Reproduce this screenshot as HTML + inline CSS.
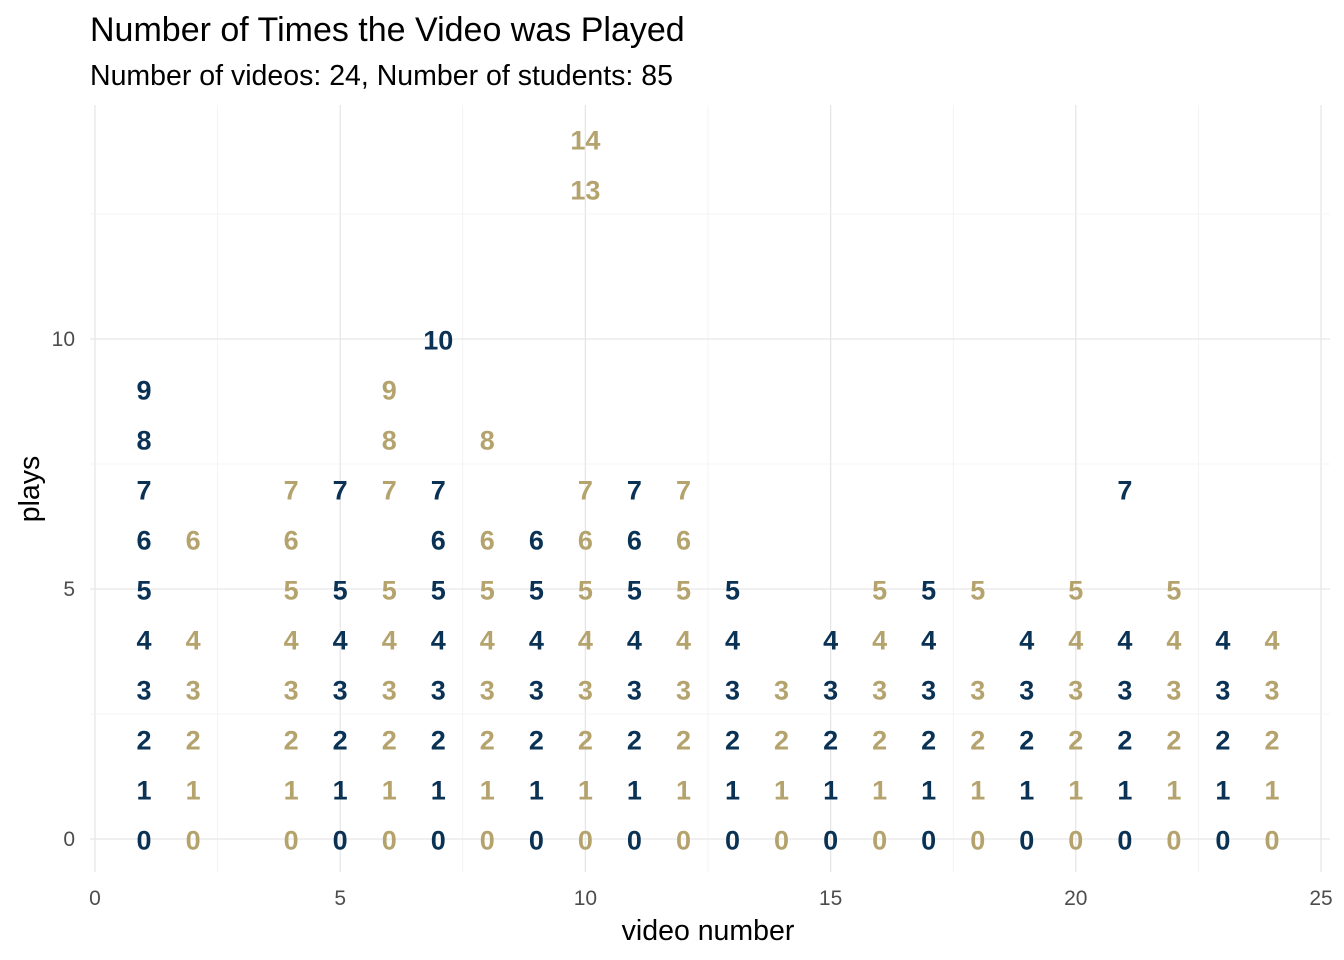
<!DOCTYPE html>
<html><head><meta charset="utf-8"><style>
body{margin:0;background:#fff;}
svg{display:block;font-family:"Liberation Sans",Arial,sans-serif;}
</style></head><body>
<svg id="chart" width="1344" height="960" xmlns="http://www.w3.org/2000/svg">
<text x="90" y="41" font-size="34" fill="#000">Number of Times the Video was Played</text>
<text x="90" y="85" font-size="28.5" fill="#000">Number of videos: 24, Number of students: 85</text>
<g id="grid"></g><g id="labels"></g><g id="axes"></g>
<text x="708" y="940" font-size="28.5" text-anchor="middle" fill="#000">video number</text>
<text transform="translate(39,489) rotate(-90)" font-size="28.5" text-anchor="middle" fill="#000">plays</text>
</svg>
<script>
const videos=[1,2,4,5,6,7,8,9,10,11,12,13,14,15,16,17,18,19,20,21,22,23,24];
const playValues=[
[0,1,2,3,4,5,6,7,8,9],[0,1,2,3,4,6],[0,1,2,3,4,5,6,7],[0,1,2,3,4,5,7],[0,1,2,3,4,5,7,8,9],
[0,1,2,3,4,5,6,7,10],[0,1,2,3,4,5,6,8],[0,1,2,3,4,5,6],[0,1,2,3,4,5,6,7,13,14],[0,1,2,3,4,5,6,7],
[0,1,2,3,4,5,6,7],[0,1,2,3,4,5],[0,1,2,3],[0,1,2,3,4],[0,1,2,3,4,5],[0,1,2,3,4,5],[0,1,2,3,5],
[0,1,2,3,4],[0,1,2,3,4,5],[0,1,2,3,4,7],[0,1,2,3,4,5],[0,1,2,3,4],[0,1,2,3,4]];
const xTicks=[0,5,10,15,20,25];
const yTicks=[0,5,10];
const NS="http://www.w3.org/2000/svg";
const X=v=>95+v*49.04, Y=v=>839-v*50;
const L=90,R=1330,T=105,B=872;
function mk(tag,attrs,parent){const e=document.createElementNS(NS,tag);for(const k in attrs)e.setAttribute(k,attrs[k]);parent.appendChild(e);return e;}
const g=document.getElementById('grid'),lab=document.getElementById('labels'),ax=document.getElementById('axes');
for(let v=0;v<=25;v+=2.5){const l=mk('line',{x1:X(v),x2:X(v),y1:T,y2:B,stroke:v%5===0?'#e6e6e6':'#f0f0f0','stroke-width':v%5===0?1.3:0.8},g);

}
for(let v=0;v<=15;v+=2.5){const y=Y(v);if(y<T)continue;const l=mk('line',{x1:L,x2:R,y1:y,y2:y,stroke:v%5===0?'#e6e6e6':'#f0f0f0','stroke-width':v%5===0?1.3:0.8},g);

}
xTicks.forEach(t=>{const e=mk('text',{x:X(t),y:905,'font-size':21,'text-anchor':'middle',fill:'#4d4d4d'},ax);e.textContent=t;

});
yTicks.forEach(t=>{const e=mk('text',{x:75,y:Y(t)+7,'font-size':21,'text-anchor':'end',fill:'#4d4d4d'},ax);e.textContent=t;

});
videos.forEach((vid,i)=>{playValues[i].forEach(p=>{
const e=mk('text',{x:X(vid),y:Y(p)+10.5,'font-size':27,'font-weight':'bold','text-anchor':'middle',fill:vid%2?'#0A3255':'#B5A36E'},lab);
e.textContent=p;

});});
</script>
</body></html>
